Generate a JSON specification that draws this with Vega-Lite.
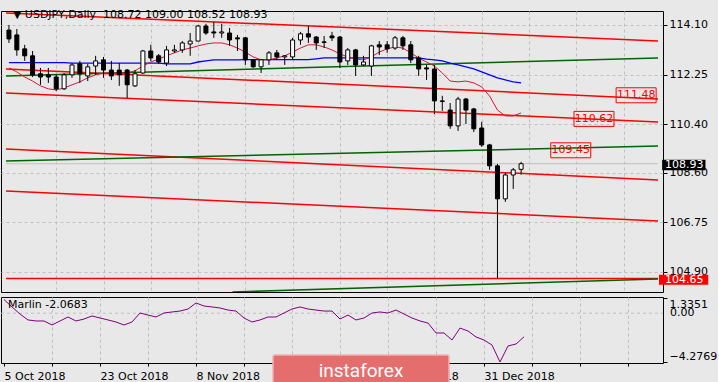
{
"$schema": "https://vega.github.io/schema/vega-lite/v6.json",
"background": "#e8e8e8",
"padding": {"left": 0, "top": 8, "right": 0, "bottom": 0},
"spacing": 3,
"config": {"view": {"stroke": "#000000", "strokeWidth": 1}, "font": "DejaVu Sans", "axis": {"labelFont": "DejaVu Sans", "labelFontSize": 11, "labelColor": "#000000", "title": null}},
"datasets": {
"bars": [
{"d":"2018-10-05","i":0,"o":113.91,"h":114.10,"l":113.43,"c":113.58,"ma1":112.70,"ma2":112.50,"m":1.20},
{"d":"2018-10-08","i":1,"o":113.73,"h":113.95,"l":112.95,"c":113.17,"ma1":112.70,"ma2":112.35,"m":0.55},
{"d":"2018-10-09","i":2,"o":113.21,"h":113.36,"l":112.76,"c":112.95,"ma1":112.70,"ma2":112.16,"m":-0.07},
{"d":"2018-10-10","i":3,"o":112.95,"h":113.13,"l":112.16,"c":112.24,"ma1":112.70,"ma2":112.01,"m":-0.59},
{"d":"2018-10-11","i":4,"o":112.28,"h":112.50,"l":111.87,"c":112.16,"ma1":112.70,"ma2":111.83,"m":-0.68},
{"d":"2018-10-12","i":5,"o":112.24,"h":112.50,"l":111.94,"c":112.16,"ma1":112.70,"ma2":111.72,"m":-0.68},
{"d":"2018-10-15","i":6,"o":112.16,"h":112.24,"l":111.64,"c":111.72,"ma1":112.70,"ma2":111.68,"m":-1.03},
{"d":"2018-10-16","i":7,"o":111.72,"h":112.31,"l":111.68,"c":112.24,"ma1":112.70,"ma2":111.75,"m":-0.68},
{"d":"2018-10-17","i":8,"o":112.24,"h":112.68,"l":112.13,"c":112.61,"ma1":112.68,"ma2":111.87,"m":-0.33},
{"d":"2018-10-18","i":9,"o":112.65,"h":112.76,"l":111.94,"c":112.28,"ma1":112.68,"ma2":111.98,"m":-0.68},
{"d":"2018-10-19","i":10,"o":112.20,"h":112.65,"l":112.01,"c":112.54,"ma1":112.68,"ma2":112.13,"m":-0.51},
{"d":"2018-10-22","i":11,"o":112.57,"h":112.95,"l":112.24,"c":112.76,"ma1":112.68,"ma2":112.24,"m":-0.24},
{"d":"2018-10-23","i":12,"o":112.80,"h":112.91,"l":112.13,"c":112.42,"ma1":112.68,"ma2":112.31,"m":-0.42},
{"d":"2018-10-24","i":13,"o":112.42,"h":112.76,"l":112.05,"c":112.20,"ma1":112.68,"ma2":112.31,"m":-0.59},
{"d":"2018-10-25","i":14,"o":112.42,"h":112.68,"l":111.83,"c":112.24,"ma1":112.68,"ma2":112.31,"m":-0.77},
{"d":"2018-10-26","i":15,"o":112.42,"h":112.46,"l":111.38,"c":111.87,"ma1":112.68,"ma2":112.31,"m":-1.03},
{"d":"2018-10-29","i":16,"o":111.83,"h":112.42,"l":111.79,"c":112.28,"ma1":112.68,"ma2":112.39,"m":-0.77},
{"d":"2018-10-30","i":17,"o":112.31,"h":113.17,"l":112.28,"c":113.13,"ma1":112.68,"ma2":112.57,"m":0.02},
{"d":"2018-10-31","i":18,"o":113.13,"h":113.36,"l":112.76,"c":112.87,"ma1":112.68,"ma2":112.72,"m":-0.16},
{"d":"2018-11-01","i":19,"o":112.95,"h":113.02,"l":112.65,"c":112.72,"ma1":112.68,"ma2":112.83,"m":-0.33},
{"d":"2018-11-02","i":20,"o":112.68,"h":113.32,"l":112.57,"c":113.17,"ma1":112.65,"ma2":112.95,"m":0.02},
{"d":"2018-11-05","i":21,"o":113.13,"h":113.36,"l":113.06,"c":113.17,"ma1":112.65,"ma2":113.06,"m":0.11},
{"d":"2018-11-06","i":22,"o":113.17,"h":113.50,"l":113.06,"c":113.43,"ma1":112.65,"ma2":113.17,"m":0.19},
{"d":"2018-11-07","i":23,"o":113.39,"h":113.80,"l":112.95,"c":113.50,"ma1":112.65,"ma2":113.24,"m":0.37},
{"d":"2018-11-08","i":24,"o":113.50,"h":114.10,"l":113.50,"c":114.06,"ma1":112.72,"ma2":113.32,"m":0.90},
{"d":"2018-11-09","i":25,"o":114.06,"h":114.14,"l":113.73,"c":113.80,"ma1":112.76,"ma2":113.39,"m":0.63},
{"d":"2018-11-12","i":26,"o":113.84,"h":114.21,"l":113.62,"c":113.80,"ma1":112.80,"ma2":113.43,"m":0.55},
{"d":"2018-11-13","i":27,"o":113.80,"h":114.14,"l":113.62,"c":113.84,"ma1":112.80,"ma2":113.43,"m":0.46},
{"d":"2018-11-14","i":28,"o":113.80,"h":113.99,"l":113.32,"c":113.54,"ma1":112.80,"ma2":113.36,"m":0.28},
{"d":"2018-11-15","i":29,"o":113.62,"h":113.73,"l":113.13,"c":113.58,"ma1":112.80,"ma2":113.24,"m":0.19},
{"d":"2018-11-16","i":30,"o":113.62,"h":113.65,"l":112.61,"c":112.80,"ma1":112.81,"ma2":113.09,"m":-0.42},
{"d":"2018-11-19","i":31,"o":112.80,"h":112.83,"l":112.50,"c":112.54,"ma1":112.81,"ma2":112.91,"m":-0.77},
{"d":"2018-11-20","i":32,"o":112.54,"h":112.83,"l":112.31,"c":112.80,"ma1":112.81,"ma2":112.80,"m":-0.59},
{"d":"2018-11-21","i":33,"o":112.80,"h":113.13,"l":112.61,"c":113.06,"ma1":112.81,"ma2":112.80,"m":-0.33},
{"d":"2018-11-22","i":34,"o":113.06,"h":113.17,"l":112.80,"c":112.91,"ma1":112.81,"ma2":112.87,"m":-0.33},
{"d":"2018-11-23","i":35,"o":112.91,"h":112.98,"l":112.61,"c":112.95,"ma1":112.81,"ma2":112.95,"m":0.02},
{"d":"2018-11-26","i":36,"o":112.91,"h":113.62,"l":112.80,"c":113.54,"ma1":112.81,"ma2":113.09,"m":0.37},
{"d":"2018-11-27","i":37,"o":113.54,"h":113.84,"l":113.36,"c":113.77,"ma1":112.81,"ma2":113.24,"m":0.55},
{"d":"2018-11-28","i":38,"o":113.77,"h":114.06,"l":113.43,"c":113.65,"ma1":112.81,"ma2":113.36,"m":0.37},
{"d":"2018-11-29","i":39,"o":113.65,"h":113.69,"l":113.17,"c":113.43,"ma1":112.84,"ma2":113.36,"m":0.28},
{"d":"2018-11-30","i":40,"o":113.47,"h":113.69,"l":113.24,"c":113.45,"ma1":112.87,"ma2":113.28,"m":0.19},
{"d":"2018-12-03","i":41,"o":113.69,"h":113.84,"l":113.50,"c":113.62,"ma1":112.87,"ma2":113.17,"m":0.19},
{"d":"2018-12-04","i":42,"o":113.65,"h":113.69,"l":112.50,"c":112.72,"ma1":112.87,"ma2":113.02,"m":-0.51},
{"d":"2018-12-05","i":43,"o":112.76,"h":113.24,"l":112.61,"c":113.17,"ma1":112.87,"ma2":112.91,"m":-0.16},
{"d":"2018-12-06","i":44,"o":113.17,"h":113.21,"l":112.20,"c":112.61,"ma1":112.87,"ma2":112.83,"m":-0.59},
{"d":"2018-12-07","i":45,"o":112.61,"h":112.95,"l":112.57,"c":112.72,"ma1":112.87,"ma2":112.80,"m":-0.42},
{"d":"2018-12-10","i":46,"o":112.57,"h":113.36,"l":112.20,"c":113.32,"ma1":112.87,"ma2":112.91,"m":0.02},
{"d":"2018-12-11","i":47,"o":113.36,"h":113.50,"l":112.98,"c":113.28,"ma1":112.87,"ma2":113.09,"m":0.11},
{"d":"2018-12-12","i":48,"o":113.36,"h":113.50,"l":113.06,"c":113.21,"ma1":112.87,"ma2":113.21,"m":0.02},
{"d":"2018-12-13","i":49,"o":113.24,"h":113.69,"l":113.17,"c":113.62,"ma1":112.87,"ma2":113.28,"m":0.28},
{"d":"2018-12-14","i":50,"o":113.62,"h":113.69,"l":113.17,"c":113.32,"ma1":112.87,"ma2":113.24,"m":-0.07},
{"d":"2018-12-17","i":51,"o":113.36,"h":113.50,"l":112.68,"c":112.80,"ma1":112.87,"ma2":113.06,"m":-0.42},
{"d":"2018-12-18","i":52,"o":112.87,"h":112.95,"l":112.20,"c":112.46,"ma1":112.87,"ma2":112.87,"m":-0.68},
{"d":"2018-12-19","i":53,"o":112.50,"h":112.61,"l":112.05,"c":112.46,"ma1":112.83,"ma2":112.72,"m":-0.86},
{"d":"2018-12-20","i":54,"o":112.46,"h":112.61,"l":110.78,"c":111.27,"ma1":112.80,"ma2":112.57,"m":-1.73},
{"d":"2018-12-21","i":55,"o":111.27,"h":111.46,"l":110.90,"c":111.25,"ma1":112.76,"ma2":112.31,"m":-1.73},
{"d":"2018-12-24","i":56,"o":110.93,"h":111.19,"l":110.23,"c":110.34,"ma1":112.68,"ma2":112.01,"m":-2.35},
{"d":"2018-12-26","i":57,"o":110.34,"h":111.42,"l":110.15,"c":111.34,"ma1":112.61,"ma2":111.98,"m":-1.30},
{"d":"2018-12-27","i":58,"o":111.34,"h":111.38,"l":110.41,"c":110.93,"ma1":112.54,"ma2":112.01,"m":-1.56},
{"d":"2018-12-28","i":59,"o":110.97,"h":111.01,"l":110.11,"c":110.23,"ma1":112.46,"ma2":111.94,"m":-2.08},
{"d":"2018-12-31","i":60,"o":110.26,"h":110.49,"l":109.56,"c":109.63,"ma1":112.35,"ma2":111.79,"m":-2.35},
{"d":"2019-01-02","i":61,"o":109.63,"h":109.67,"l":108.70,"c":108.85,"ma1":112.24,"ma2":111.45,"m":-2.79},
{"d":"2019-01-03","i":62,"o":108.85,"h":108.92,"l":104.65,"c":107.62,"ma1":112.13,"ma2":110.93,"m":-4.2769},
{"d":"2019-01-04","i":63,"o":107.62,"h":108.59,"l":107.51,"c":108.51,"ma1":112.05,"ma2":110.71,"m":-2.87},
{"d":"2019-01-07","i":64,"o":108.51,"h":108.77,"l":107.99,"c":108.70,"ma1":111.98,"ma2":110.71,"m":-2.70},
{"d":"2019-01-08","i":65,"o":108.72,"h":109.00,"l":108.52,"c":108.93,"ma1":111.94,"ma2":110.82,"m":-2.0683}
],
"lines": [
{"id":"R1","i":-0.375,"p":114.547},{"id":"R1","i":82.375,"p":113.504},
{"id":"R2","i":-0.375,"p":112.461},{"id":"R2","i":82.375,"p":111.344},
{"id":"R3","i":-0.375,"p":111.567},{"id":"R3","i":82.375,"p":110.487},
{"id":"R4","i":-0.375,"p":109.481},{"id":"R4","i":82.375,"p":108.326},
{"id":"R5","i":-0.375,"p":107.917},{"id":"R5","i":82.375,"p":106.799},
{"id":"R6","i":-0.375,"p":104.65},{"id":"R6","i":82.375,"p":104.65},
{"id":"G1","i":-0.375,"p":112.20},{"id":"G1","i":82.375,"p":112.871},
{"id":"G2","i":-0.375,"p":109.03},{"id":"G2","i":82.375,"p":109.59},
{"id":"G3","i":28.375,"p":104.15},{"id":"G3","i":82.375,"p":104.638}
],
"tags": [
{"label":"111.48","i":79.6,"p":111.48},
{"label":"110.62","i":74.25,"p":110.60},
{"label":"109.45","i":71.3,"p":109.43}
]
},
"vconcat": [
{
"width": 662, "height": 281,
"layer": [
{"data": {"values": [{}]}, "mark": {"type": "rule", "color": "#c0c0c0", "strokeWidth": 1},
 "encoding": {
  "x": {"datum": -0.375, "type": "quantitative", "scale": {"domain": [-0.375, 82.375], "nice": false, "zero": false},
        "axis": {"values": [6,12,18,24,30,36,42,48,54,60,66,72,78], "labels": false, "ticks": false, "domain": false, "grid": true, "gridColor": "#c0c0c0", "gridDash": [3,3], "title": null}},
  "x2": {"datum": 82.375},
  "y": {"datum": 108.93, "type": "quantitative", "scale": {"domain": [104.15, 114.62], "nice": false, "zero": false},
        "axis": {"orient": "right", "values": [104.9, 106.75, 108.6, 110.4, 112.25, 114.1], "format": ".2f", "grid": true, "gridColor": "#c0c0c0", "gridDash": [3,3], "domain": false, "tickColor": "#000000", "tickSize": 4, "labelPadding": 2, "title": null}}
 }},
{"data": {"name": "lines"}, "mark": {"type": "line", "clip": true, "strokeWidth": 1.5},
 "encoding": {
  "x": {"field": "i", "type": "quantitative", "scale": {"domain": [-0.375, 82.375], "nice": false, "zero": false}},
  "y": {"field": "p", "type": "quantitative", "scale": {"domain": [104.15, 114.62], "nice": false, "zero": false}},
  "color": {"field": "id", "type": "nominal", "scale": {"domain": ["R1","R2","R3","R4","R5","R6","G1","G2","G3"], "range": ["#ff0000","#ff0000","#ff0000","#ff0000","#ff0000","#ff0000","#006400","#006400","#006400"]}, "legend": null}
 }},
{"data": {"name": "bars"}, "mark": {"type": "line", "color": "#0000ff", "strokeWidth": 1.3},
 "encoding": {
  "x": {"field": "i", "type": "quantitative", "scale": {"domain": [-0.375, 82.375], "nice": false, "zero": false}},
  "y": {"field": "ma1", "type": "quantitative", "scale": {"domain": [104.15, 114.62], "nice": false, "zero": false}}
 }},
{"data": {"name": "bars"}, "mark": {"type": "line", "color": "#dc143c", "strokeWidth": 1},
 "encoding": {
  "x": {"field": "i", "type": "quantitative", "scale": {"domain": [-0.375, 82.375], "nice": false, "zero": false}},
  "y": {"field": "ma2", "type": "quantitative", "scale": {"domain": [104.15, 114.62], "nice": false, "zero": false}}
 }},
{"data": {"name": "bars"}, "mark": {"type": "rule", "color": "#000000", "strokeWidth": 1},
 "encoding": {
  "x": {"field": "i", "type": "quantitative", "scale": {"domain": [-0.375, 82.375], "nice": false, "zero": false}},
  "y": {"field": "l", "type": "quantitative", "scale": {"domain": [104.15, 114.62], "nice": false, "zero": false}},
  "y2": {"field": "h"}
 }},
{"data": {"name": "bars"}, "mark": {"type": "bar", "width": 4, "stroke": "#000000", "strokeWidth": 1},
 "encoding": {
  "x": {"field": "i", "type": "quantitative", "scale": {"domain": [-0.375, 82.375], "nice": false, "zero": false}},
  "y": {"field": "o", "type": "quantitative", "scale": {"domain": [104.15, 114.62], "nice": false, "zero": false}},
  "y2": {"field": "c"},
  "fill": {"condition": {"test": "datum.c >= datum.o", "value": "#ffffff"}, "value": "#000000"}
 }},
{"data": {"name": "tags"}, "mark": {"type": "point", "filled": false, "color": "#ff0000", "strokeWidth": 1, "opacity": 1, "size": 1600, "shape": "M-1,-0.375H1V0.375H-1Z"},
 "encoding": {
  "x": {"field": "i", "type": "quantitative", "scale": {"domain": [-0.375, 82.375], "nice": false, "zero": false}},
  "y": {"field": "p", "type": "quantitative", "scale": {"domain": [104.15, 114.62], "nice": false, "zero": false}}
 }},
{"data": {"name": "tags"}, "mark": {"type": "text", "color": "#ff0000", "fontSize": 11, "align": "center", "baseline": "middle"},
 "encoding": {
  "x": {"field": "i", "type": "quantitative", "scale": {"domain": [-0.375, 82.375], "nice": false, "zero": false}},
  "y": {"field": "p", "type": "quantitative", "scale": {"domain": [104.15, 114.62], "nice": false, "zero": false}},
  "text": {"field": "label"}
 }},
{"data": {"values": [{}]}, "mark": {"type": "rect", "color": "#000000", "clip": false},
 "encoding": {
  "x": {"datum": 82.9, "type": "quantitative", "scale": {"domain": [-0.375, 82.375], "nice": false, "zero": false}},
  "x2": {"datum": 88.4},
  "y": {"datum": 109.08, "type": "quantitative", "scale": {"domain": [104.15, 114.62], "nice": false, "zero": false}},
  "y2": {"datum": 108.69}
 }},
{"data": {"values": [{}]}, "mark": {"type": "text", "color": "#ffffff", "fontSize": 11, "align": "left", "baseline": "middle", "clip": false},
 "encoding": {
  "x": {"datum": 83.25, "type": "quantitative", "scale": {"domain": [-0.375, 82.375], "nice": false, "zero": false}},
  "y": {"datum": 108.89, "type": "quantitative", "scale": {"domain": [104.15, 114.62], "nice": false, "zero": false}},
  "text": {"value": "108.93"}
 }},
{"data": {"values": [{}]}, "mark": {"type": "rect", "color": "#ff0000", "clip": false},
 "encoding": {
  "x": {"datum": 82.5, "type": "quantitative", "scale": {"domain": [-0.375, 82.375], "nice": false, "zero": false}},
  "x2": {"datum": 88.75},
  "y": {"datum": 104.79, "type": "quantitative", "scale": {"domain": [104.15, 114.62], "nice": false, "zero": false}},
  "y2": {"datum": 104.42}
 }},
{"data": {"values": [{}]}, "mark": {"type": "text", "color": "#ffffff", "fontSize": 11, "align": "left", "baseline": "middle", "clip": false},
 "encoding": {
  "x": {"datum": 83.25, "type": "quantitative", "scale": {"domain": [-0.375, 82.375], "nice": false, "zero": false}},
  "y": {"datum": 104.6, "type": "quantitative", "scale": {"domain": [104.15, 114.62], "nice": false, "zero": false}},
  "text": {"value": "104.65"}
 }},
{"data": {"values": [{}]}, "mark": {"type": "text", "color": "#000000", "fontSize": 11, "align": "left", "baseline": "middle", "clip": false},
 "encoding": {
  "x": {"datum": 0.5, "type": "quantitative", "scale": {"domain": [-0.375, 82.375], "nice": false, "zero": false}},
  "y": {"datum": 114.47, "type": "quantitative", "scale": {"domain": [104.15, 114.62], "nice": false, "zero": false}},
  "text": {"value": "▼ USDJPY,Daily\u00a0\u00a0108.72 109.00 108.52 108.93"}
 }}
]
},
{
"width": 662, "height": 66,
"layer": [
{"data": {"values": [{}]}, "mark": {"type": "rule", "color": "#c0c0c0", "strokeWidth": 1, "strokeDash": [3, 3]},
 "encoding": {
  "x": {"datum": -0.375, "type": "quantitative", "scale": {"domain": [-0.375, 82.375], "nice": false, "zero": false},
        "axis": {"values": [0,6,12,18,24,30,36,42,48,54,60,66,72,78], "labelExpr": "(datum.value <= 60 && datum.value % 12 == 0) ? ['5 Oct 2018','23 Oct 2018','8 Nov 2018','26 Nov 2018','12 Dec 2018','31 Dec 2018'][datum.value / 12] : ''", "labelAlign": "left", "labelOverlap": false, "labelBound": false, "labelPadding": 4, "ticks": true, "tickSize": 3, "tickColor": "#000000", "domain": false, "grid": true, "gridColor": "#c0c0c0", "gridDash": [3,3], "gridOpacity": {"condition": {"test": "datum.value > 0", "value": 1}, "value": 0}, "title": null}},
  "x2": {"datum": 82.375},
  "y": {"datum": 0, "type": "quantitative", "scale": {"domain": [-4.3647, 1.4228], "nice": false, "zero": false},
        "axis": {"orient": "right", "values": [1.3351, 0.00001, -4.2769], "labelExpr": "abs(datum.value) < 0.001 ? '0.00' : format(datum.value, '.4f')", "labelOverlap": false, "labelOffset": {"condition": [{"test": "datum.value > 1", "value": 6}, {"test": "datum.value < -4", "value": -5}], "value": 0}, "grid": false, "domain": false, "tickColor": "#000000", "tickSize": 4, "labelPadding": 2, "title": null}}
 }},
{"data": {"values": [{}]}, "mark": {"type": "text", "color": "#000000", "fontSize": 11, "align": "left", "baseline": "middle", "clip": false},
 "encoding": {
  "x": {"datum": 83.25, "type": "quantitative", "scale": {"domain": [-0.375, 82.375], "nice": false, "zero": false}},
  "y": {"datum": 0, "type": "quantitative", "scale": {"domain": [-4.3647, 1.4228], "nice": false, "zero": false}},
  "text": {"value": "0.00"}
 }},
{"data": {"name": "bars"}, "mark": {"type": "line", "color": "#800080", "strokeWidth": 1},
 "encoding": {
  "x": {"field": "i", "type": "quantitative", "scale": {"domain": [-0.375, 82.375], "nice": false, "zero": false}},
  "y": {"field": "m", "type": "quantitative", "scale": {"domain": [-4.3647, 1.4228], "nice": false, "zero": false}}
 }},
{"data": {"values": [{}]}, "mark": {"type": "text", "color": "#000000", "fontSize": 11, "align": "left", "baseline": "middle"},
 "encoding": {
  "x": {"datum": 0.5, "type": "quantitative", "scale": {"domain": [-0.375, 82.375], "nice": false, "zero": false}},
  "y": {"datum": 0.72, "type": "quantitative", "scale": {"domain": [-4.3647, 1.4228], "nice": false, "zero": false}},
  "text": {"value": "Marlin -2.0683"}
 }},
{"data": {"values": [{}]}, "mark": {"type": "rect", "fill": "#e46e6e", "stroke": "#f2b0b0", "strokeWidth": 1.5, "cornerRadius": 2, "clip": false},
 "encoding": {
  "x": {"datum": 33.625, "type": "quantitative", "scale": {"domain": [-0.375, 82.375], "nice": false, "zero": false}},
  "x2": {"datum": 55.625},
  "y": {"datum": -3.663, "type": "quantitative", "scale": {"domain": [-4.3647, 1.4228], "nice": false, "zero": false}},
  "y2": {"datum": -6.5}
 }},
{"data": {"values": [{}]}, "mark": {"type": "text", "color": "#ffffff", "font": "Roboto", "fontSize": 19, "align": "center", "baseline": "middle", "clip": false},
 "encoding": {
  "x": {"datum": 44.625, "type": "quantitative", "scale": {"domain": [-0.375, 82.375], "nice": false, "zero": false}},
  "y": {"datum": -5.066, "type": "quantitative", "scale": {"domain": [-4.3647, 1.4228], "nice": false, "zero": false}},
  "text": {"value": "instaforex"}
 }}
]
}
]
}
